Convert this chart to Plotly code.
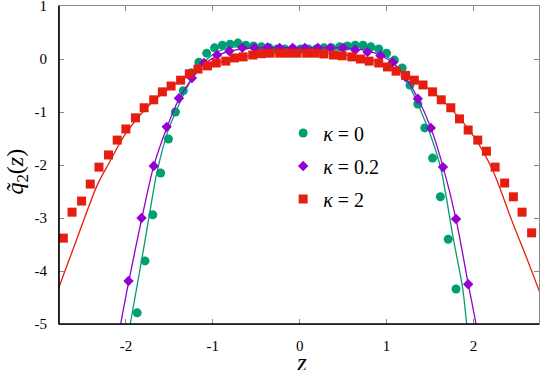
import plotly.graph_objects as go

# kappa = 0 (green circles)
z_k0 = [-1.87, -1.78, -1.69, -1.60, -1.51, -1.43, -1.34, -1.25, -1.16, -1.07,
        -0.98, -0.89, -0.80, -0.71, -0.62, -0.53, -0.44, -0.35, -0.26, -0.17,
        -0.08, 0.01, 0.10, 0.19, 0.28, 0.37, 0.46, 0.55, 0.64, 0.73,
        0.82, 0.91, 1.00, 1.09, 1.18, 1.27, 1.36, 1.44, 1.53, 1.62,
        1.71, 1.80]
q_k0 = [-4.79, -3.81, -2.94, -2.15, -1.51, -1.00, -0.60, -0.26, -0.06, 0.11,
        0.21, 0.26, 0.28, 0.30, 0.26, 0.245, 0.23, 0.21, 0.19, 0.19,
        0.19, 0.19, 0.19, 0.19, 0.21, 0.21, 0.23, 0.245, 0.26, 0.26,
        0.23, 0.19, 0.11, -0.02, -0.17, -0.49, -0.85, -1.30, -1.87, -2.60,
        -3.40, -4.34]

# kappa = 0.2 (purple diamonds)
z_k02 = [-1.97, -1.82, -1.68, -1.53, -1.39, -1.24, -1.10, -0.95, -0.81, -0.66,
         -0.52, -0.37, -0.23, -0.08, 0.06, 0.21, 0.35, 0.50, 0.64, 0.78,
         0.93, 1.07, 1.22, 1.36, 1.51, 1.65, 1.80, 1.94]
q_k02 = [-4.19, -3.00, -2.02, -1.28, -0.74, -0.36, -0.075, 0.075, 0.15, 0.21,
         0.21, 0.22, 0.21, 0.21, 0.21, 0.21, 0.21, 0.21, 0.17, 0.13,
         0.06, -0.06, -0.34, -0.75, -1.30, -2.04, -3.02, -4.25]

# kappa = 2 (red squares)
z_k2 = [-2.72, -2.62, -2.51, -2.41, -2.31, -2.20, -2.10, -2.00, -1.89, -1.79,
        -1.68, -1.58, -1.48, -1.37, -1.27, -1.17, -1.06, -0.96, -0.85, -0.75,
        -0.65, -0.54, -0.44, -0.34, -0.23, -0.13, -0.03, 0.08, 0.18, 0.28,
        0.39, 0.49, 0.60, 0.70, 0.80, 0.91, 1.01, 1.11, 1.22, 1.32,
        1.42, 1.53, 1.63, 1.74, 1.84, 1.94, 2.05, 2.15, 2.25, 2.36,
        2.46, 2.56, 2.67]
q_k2 = [-3.38, -2.89, -2.68, -2.36, -2.04, -1.81, -1.53, -1.32, -1.11, -0.92,
        -0.77, -0.62, -0.51, -0.40, -0.28, -0.19, -0.13, -0.075, -0.04, 0.02,
        0.04, 0.075, 0.10, 0.11, 0.11, 0.11, 0.11, 0.11, 0.11, 0.095,
        0.075, 0.06, 0.04, 0.0, -0.04, -0.075, -0.15, -0.23, -0.31, -0.40,
        -0.49, -0.62, -0.77, -0.92, -1.13, -1.34, -1.53, -1.74, -2.04, -2.34,
        -2.60, -2.89, -3.28]

# fitted curves
zc_k0 = [-1.99, -1.95, -1.82, -1.73, -1.644, -1.52, -1.40, -1.30, -1.20, -1.10,
         -1.00, -0.85, -0.65, -0.40, 0.0, 0.40, 0.65, 0.85, 1.00, 1.10,
         1.20, 1.30, 1.40, 1.52, 1.628, 1.77, 1.877, 1.923, 1.96]
qc_k0 = [-5.4, -5.0, -3.81, -2.94, -2.15, -1.38, -0.90, -0.55, -0.27, -0.06,
         0.08, 0.20, 0.24, 0.22, 0.19, 0.22, 0.24, 0.20, 0.06, -0.10,
         -0.33, -0.63, -1.00, -1.50, -2.09, -3.40, -4.33, -5.0, -5.4]

zc_k02 = [-2.11, -2.06, -1.966, -1.816, -1.68, -1.53, -1.39, -1.24, -1.10, -0.95,
          -0.80, -0.50, 0.0, 0.50, 0.80, 0.93, 1.07, 1.22, 1.36, 1.51,
          1.65, 1.80, 1.94, 2.03, 2.08]
qc_k02 = [-5.5, -5.0, -4.19, -3.0, -2.02, -1.30, -0.76, -0.37, -0.10, 0.06,
          0.15, 0.21, 0.21, 0.21, 0.15, 0.07, -0.07, -0.35, -0.74, -1.30,
          -2.03, -3.02, -4.24, -5.0, -5.5]

zc_k2 = [-2.78, -2.55, -2.33, -2.20, -2.00, -1.75, -1.50, -1.25, -1.00, -0.75,
         -0.50, -0.25, 0.0, 0.25, 0.50, 0.75, 1.00, 1.25, 1.50, 1.75,
         2.00, 2.22, 2.44, 2.60, 2.78]
qc_k2 = [-4.35, -3.33, -2.38, -1.98, -1.40, -0.90, -0.55, -0.29, -0.11, 0.01,
         0.08, 0.11, 0.12, 0.11, 0.08, 0.01, -0.12, -0.31, -0.58, -0.95,
         -1.45, -2.09, -3.04, -3.70, -4.47]

x_ticks = [-2, -1, 0, 1, 2]
y_ticks = [-5, -4, -3, -2, -1, 0, 1]

green = '#009E73'
purple = '#9400D3'
red = '#E51E10'
serif = '"Liberation Serif", "DejaVu Serif", "Times New Roman", serif'

fig = go.Figure()

sets = [
    (z_k0, q_k0, zc_k0, qc_k0, green, 'circle', 9, '<i>κ</i> = 0'),
    (z_k02, q_k02, zc_k02, qc_k02, purple, 'diamond', 8, '<i>κ</i> = 0.2'),
    (z_k2, q_k2, zc_k2, qc_k2, red, 'square', 9, '<i>κ</i> = 2'),
]
for i, (zp, qp, zc, qc, col, sym, size, name) in enumerate(sets):
    fig.add_trace(go.Scatter(
        x=zp, y=qp, mode='markers', name=name,
        legendgroup=str(i),
        marker=dict(color=col, symbol=sym, size=size, line=dict(width=0))))
    fig.add_trace(go.Scatter(
        x=zc, y=qc, mode='lines', showlegend=False,
        line=dict(color=col, width=1.3, shape='spline', smoothing=0.8)))

fig.update_layout(
    width=540, height=370,
    margin=dict(l=59, r=1, t=6, b=46, autoexpand=False),
    plot_bgcolor='white', paper_bgcolor='white',
    font=dict(family=serif, size=15, color='black'),
    showlegend=True,
    legend=dict(x=0.467, y=0.662, xanchor='left', yanchor='top',
                bgcolor='rgba(0,0,0,0)', tracegroupgap=4,
                font=dict(family=serif, size=20)),
    xaxis=dict(range=[-2.77, 2.755], showgrid=False, zeroline=False,
               showline=True, linecolor='#888888', linewidth=1, mirror='ticks',
               ticks='inside', ticklen=5, tickcolor='#888888',
               tickvals=x_ticks, ticktext=[str(v) for v in x_ticks],
               ticklabelstandoff=8, ticklabeloverflow='allow', automargin=False),
    yaxis=dict(range=[-5, 1], showgrid=False, zeroline=False,
               showline=True, linecolor='#888888', linewidth=1, mirror='ticks',
               ticks='inside', ticklen=5, tickcolor='#888888',
               tickvals=y_ticks, ticktext=[str(v) for v in y_ticks],
               ticklabelstandoff=8, ticklabeloverflow='allow', automargin=False),
)

# black left and bottom border
fig.add_shape(type='line', xref='paper', yref='paper', x0=0, x1=1, y0=0, y1=0,
              line=dict(color='black', width=1.6))
fig.add_shape(type='line', xref='paper', yref='paper', x0=0, x1=0, y0=0, y1=1,
              line=dict(color='black', width=1.6))

fig.add_annotation(text='<i>z</i>', xref='paper', yref='paper',
                   x=0.506, y=-0.12, xanchor='center', yanchor='middle',
                   showarrow=False, font=dict(family=serif, size=25))
fig.add_annotation(text='<i>q̃</i><sub>2</sub>(<i>z</i>)', xref='paper', yref='paper',
                   x=-0.087, y=0.48, xanchor='center', yanchor='middle',
                   textangle=-90, showarrow=False,
                   font=dict(family=serif, size=24))

# the default page has an 8px body margin; remove it so the figure sits at 0,0
fig.write_html("out.html", config={'displayModeBar': False},
               post_script="document.body.style.margin='0';")
